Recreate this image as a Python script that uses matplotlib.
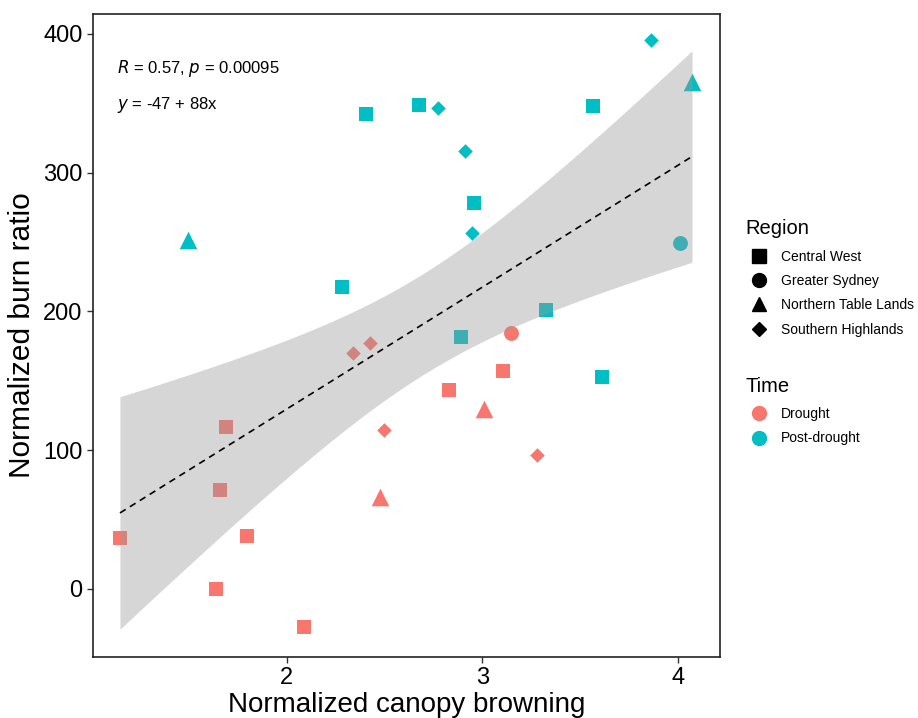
import matplotlib.pyplot as plt
import numpy as np
from matplotlib.lines import Line2D

plt.rcParams['font.family'] = ['Liberation Sans', 'DejaVu Sans']

# data
time = ['Drought'] * 15 + ['Post-drought'] * 15
region = (['Central West'] * 8 + ['Greater Sydney'] + ['Northern Table Lands'] * 2 + ['Southern Highlands'] * 4
          + ['Central West'] * 8 + ['Southern Highlands'] * 4 + ['Northern Table Lands'] * 2 + ['Greater Sydney'])
browning = [1.146, 1.637, 1.657, 1.688, 1.795, 2.087, 2.829, 3.105,
            3.146, 3.008, 2.476, 2.338, 2.425, 2.496, 3.279,
            2.404, 2.675, 3.565, 2.957, 2.281, 2.890, 3.325, 3.611,
            2.772, 2.910, 2.946, 3.862, 1.494, 4.072, 4.010]
burn = [36.8, 0.0, 71.4, 116.8, 38.2, -27.4, 143.4, 157.1,
        184.5, 129.7, 66.3, 170.0, 177.3, 114.6, 96.6,
        342.3, 348.8, 348.1, 278.2, 217.7, 181.6, 201.1, 152.8,
        346.7, 315.7, 256.6, 395.7, 251.5, 365.4, 249.4]

regions = ['Central West', 'Greater Sydney', 'Northern Table Lands', 'Southern Highlands']
times = ['Drought', 'Post-drought']
colors = {'Drought': '#F8766D', 'Post-drought': '#00BFC4'}
markers = {'Central West': 's', 'Greater Sydney': 'o', 'Northern Table Lands': '^', 'Southern Highlands': 'D'}
sizes = {'Central West': 115, 'Greater Sydney': 115, 'Northern Table Lands': 160, 'Southern Highlands': 55}

x = np.array(browning)
y = np.array(burn)

fig = plt.figure(figsize=(9.18, 7.18), dpi=100)
ax = fig.add_axes([0.1013, 0.085, 0.683, 0.8955])

for t in times:
    for r in regions:
        idx = [i for i in range(len(x)) if time[i] == t and region[i] == r]
        if idx:
            ax.scatter(x[idx], y[idx], marker=markers[r], s=sizes[r], color=colors[t],
                       linewidths=0, zorder=2)

# linear fit with 95% confidence band
n = len(x)
slope, icpt = np.polyfit(x, y, 1)
xs = np.linspace(x.min(), x.max(), 100)
yhat = icpt + slope * xs
resid = y - (icpt + slope * x)
s = np.sqrt(np.sum(resid ** 2) / (n - 2))
se = s * np.sqrt(1 / n + (xs - x.mean()) ** 2 / np.sum((x - x.mean()) ** 2))
tq = 2.048
ax.fill_between(xs, yhat - tq * se, yhat + tq * se, color='#999999', alpha=0.4,
                linewidth=0, zorder=3)
ax.plot(xs, yhat, color='black', linestyle=(0, (4, 3)), linewidth=1.2, zorder=4)

ax.text(1.13, 375, r'$R$ = 0.57, $p$ = 0.00095', fontsize=12, va='center')
ax.text(1.13, 349, r'$y$ = -47 + 88x', fontsize=12, va='center')

ax.set_xlim(1.008, 4.215)
ax.set_ylim(-49, 414.4)
ax.set_xticks([2, 3, 4])
ax.set_yticks([0, 100, 200, 300, 400])
ax.tick_params(axis='both', labelsize=17, length=4, width=1, color='#333333')
ax.set_xlabel('Normalized canopy browning', fontsize=20, labelpad=2)
ax.set_ylabel('Normalized burn ratio', fontsize=21.5, labelpad=5)
for sp in ax.spines.values():
    sp.set_linewidth(1.2)
    sp.set_color('#222222')

reg_handles = [Line2D([], [], marker=markers[r], color='black', linestyle='',
                      markersize=10 if r != 'Southern Highlands' else 7.5) for r in regions]
leg1 = ax.legend(reg_handles, regions, title='Region', loc='upper left',
                 bbox_to_anchor=(1.02, 0.70), frameon=False, fontsize=10,
                 title_fontsize=14.5, handletextpad=0.6, labelspacing=0.75)
leg1._legend_box.align = 'left'
leg1._legend_box.sep = 8
ax.add_artist(leg1)
time_handles = [Line2D([], [], marker='o', color=colors[t], linestyle='', markersize=10)
                for t in times]
leg2 = ax.legend(time_handles, times, title='Time', loc='upper left',
                 bbox_to_anchor=(1.02, 0.455), frameon=False, fontsize=10,
                 title_fontsize=14.5, handletextpad=0.6, labelspacing=0.75)
leg2._legend_box.align = 'left'
leg2._legend_box.sep = 8

plt.savefig('out.png', dpi=100)
plt.close()
